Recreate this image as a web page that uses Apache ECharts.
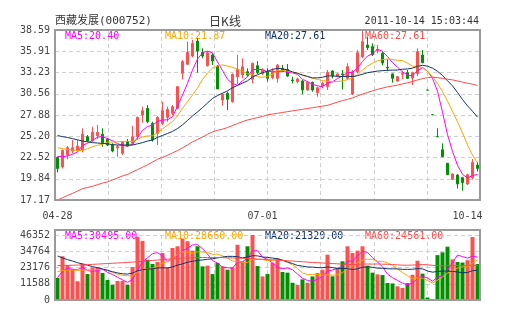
<!DOCTYPE html>
<html><head><meta charset="utf-8">
<script src="https://cdn.jsdelivr.net/npm/echarts@6/dist/echarts.min.js"></script>
<style>html,body{margin:0;padding:0;background:#fff}#c{width:505px;height:330px}</style>
</head><body><div id="c"></div>
<script>
// ---- data ----
const opens  = [22.52,21.33,22.84,23.34,23.47,23.47,25.15,24.60,25.27,25.45,
  24.82,24.10,23.72,23.06,24.52,24.31,25.15,27.88,28.72,26.83,
  25.57,26.83,27.59,28.10,28.72,33.13,34.27,35.31,37.20,35.78,
  34.09,35.44,34.05,29.77,30.61,29.56,32.70,32.92,33.34,32.38,
  34.09,33.13,33.34,32.58,32.50,33.76,33.63,32.29,32.08,32.16,
  31.03,32.00,30.69,31.53,31.45,33.42,32.79,33.05,32.50,30.53,
  33.34,35.23,36.70,36.49,35.99,35.63,33.90,33.05,32.16,33.00,
  33.21,32.54,33.10,35.44,31.02,27.92,25.15,23.50,21.80,19.78,
  20.32,19.98,19.19,20.00,21.58];
const closes = [21.14,23.41,23.76,23.76,23.97,25.45,24.60,25.70,25.70,24.39,
  24.10,23.34,23.89,24.52,23.97,25.15,27.59,28.42,27.04,24.73,
  27.59,28.42,28.60,28.93,31.45,34.60,35.78,36.91,35.94,35.31,
  35.73,34.68,31.16,30.49,29.86,33.00,33.63,33.97,32.92,34.39,
  33.21,33.55,32.50,33.34,34.18,33.42,32.79,32.20,32.42,31.03,
  32.00,31.03,31.32,31.87,33.26,32.83,33.05,32.96,33.97,33.34,
  35.73,37.12,36.36,35.48,36.15,34.43,33.80,32.50,32.70,33.13,
  32.50,33.21,35.86,34.47,31.02,27.92,25.13,22.62,20.36,20.45,
  19.19,19.37,20.36,21.90,21.15];
const lows   = [20.64,21.14,22.30,23.06,23.26,23.18,24.52,24.52,24.86,23.89,
  23.97,23.18,22.63,22.84,23.89,24.10,24.73,26.91,26.83,24.52,
  24.10,26.62,27.04,27.88,28.60,32.38,34.18,35.15,33.21,35.02,
  33.97,34.18,31.16,29.05,28.51,29.43,31.79,32.50,32.70,31.87,
  33.05,32.92,32.08,32.38,31.95,33.34,32.70,31.87,31.87,30.49,
  30.94,30.82,30.19,31.24,31.03,32.50,32.62,31.12,32.29,30.40,
  33.13,35.02,36.07,35.31,35.65,34.14,33.40,31.95,32.08,32.38,
  32.42,31.66,32.79,34.39,31.02,27.92,25.13,22.59,20.36,19.69,
  18.62,18.34,19.06,19.75,20.76];
const highs  = [22.65,23.53,23.97,24.73,24.73,26.20,25.36,26.41,26.62,26.20,
  24.98,24.31,24.10,24.60,24.86,26.49,27.67,28.93,29.14,27.04,
  27.75,29.56,28.93,29.14,31.53,34.81,37.12,37.33,37.58,36.28,
  35.94,35.65,34.18,30.61,30.82,33.13,35.44,35.02,33.76,34.47,
  34.68,33.76,33.76,33.76,34.30,34.18,34.30,32.70,32.58,32.29,
  32.08,32.08,31.45,32.08,33.55,33.55,33.13,33.55,34.39,33.55,
  36.07,38.59,37.75,36.91,36.70,35.86,34.90,33.13,32.79,33.46,
  33.55,33.34,36.28,36.07,31.02,27.92,26.20,24.31,21.83,20.51,
  20.45,20.10,20.48,22.34,21.95];
const volumes = [15800,31200,24800,22100,13400,25900,18500,23000,23500,19300,
  14300,10800,13600,13600,10800,23500,45100,42200,28700,25700,
  27100,33500,23100,37100,38300,43700,41900,35200,38300,24000,
  24500,18500,26400,24000,21600,23300,39400,27600,38300,46352,
  24200,16800,18500,26500,29800,20000,19500,12300,10800,14700,
  12300,16800,19300,21600,32300,16900,22800,27600,38300,33500,
  35200,38300,24500,19500,18300,17800,12100,11800,9800,8600,
  12000,18000,28000,18800,1800,500,32000,34000,38000,29000,
  27100,26700,28400,44900,25700];

// moving-average values at the start of the window (history not shown)
const ma5Lead  = [22.66,22.63,22.71,22.93];
const ma10Lead = [23.76,23.63,23.55,23.47,23.38,23.42,23.63,23.89,24.06];
const ma20Lead = [25.30,25.15,25.05,24.90,24.75,24.60,24.50,24.40,24.35,24.30,
  24.25,24.15,24.10,24.10,24.10,24.10,24.25,24.40,24.60];
const ma60Lead = [17.15,17.45,17.75,18.00,18.30,18.60,18.75,18.90,19.10,19.30,
  19.45,19.70,19.95,20.20,20.40,20.70,21.00,21.30,21.60,21.95,
  22.30,22.55,22.80,23.10,23.40,23.75,24.10,24.50,24.80,25.10,
  25.45,25.75,25.95,26.10,26.30,26.55,26.80,27.05,27.25,27.40,
  27.55,27.70,27.90,28.00,28.10,28.20,28.30,28.40,28.50,28.60,
  28.70,28.80,28.90,29.00,29.10,29.30,29.50,29.70,29.85];
const vma5Lead  = [16000,20500,22500,22000];
const vma10Lead = [20200,21000,21300,21300,21200,21300,21500,21600,21700];
const vma20Lead = [31400,30000,28800,27800,26600,25700,24800,23800,23000,22100,
  21100,20200,19300,18700,18500,19200,20800,21600,22000];
const vma60Lead = [24500,24600,24700,24800,24900,25000,25200,25400,25600,25800,
  26000,26200,26400,26600,26800,27000,27300,27600,27900,28200,
  28500,28800,29100,29400,29600,29800,30000,30100,30200,30300,
  30300,30300,30300,30200,30100,30000,29900,29800,29600,29400,
  29200,29000,28800,28600,28400,28200,28000,27800,27500,27300,
  27000,26800,26600,26400,26200,26000,25800,25600,25400];

const priceTicks = ['17.17','19.84','22.52','25.20','27.88','30.56','33.23','35.91','38.59'];
const priceMin = 17.17, priceMax = 38.59;
const volTickStep = 11588, volMax = 46352;
const xTickIdx  = [0, 41, 82];
const xTickText = ['04-28', '07-01', '10-14'];

const titleName = '西藏发展(000752)';
const titleMid = '日K线';
const titleTime = '2011-10-14 15:03:44';
const priceMaText = ['MA5:20.40', 'MA10:21.87', 'MA20:27.61', 'MA60:27.61'];
const volMaText = ['MA5:30495.00', 'MA10:28660.00', 'MA20:21320.00', 'MA60:24561.00'];
const maColors = ['#ff00ff', '#ffa500', '#10336b', '#ff4a4a'];

// ---- build ----
const UP = '#ff5050', DOWN = '#009000';
const MONO = '"DejaVu Sans Mono", "Noto Sans CJK SC", monospace';
const cats = closes.map((_, i) => String(i));
const kData = closes.map((c, i) => [opens[i], c, lows[i], highs[i]]);
function ma(vals, n, lead) {
  return vals.map((v, i) => {
    if (i < n - 1) return lead[i];
    let s = 0; for (let k = i - n + 1; k <= i; k++) s += vals[k];
    return +(s / n).toFixed(3);
  });
}
function isUp(i) {
  if (closes[i] > opens[i]) return true;
  if (closes[i] < opens[i]) return false;
  return i > 0 ? closes[i] >= closes[i - 1] : true;
}
const volData = volumes.map((v, i) => ({ value: v, itemStyle: { color: isUp(i) ? UP : DOWN } }));

const dash = { color: '#cfcfcf', type: [4, 3], width: 1 };
function lineSeries(name, data, color, xi, yi) {
  return { name, type: 'line', data, xAxisIndex: xi, yAxisIndex: yi, showSymbol: false, symbol: 'none',
    smooth: false, lineStyle: { color, width: 1 }, z: 3, silent: true, animation: false };
}
const lbl = (x, y, text, fill, font, align) => ({ type: 'text', z: 0, x, y,
  style: { text, fill, font, align: align || 'left', verticalAlign: 'middle' } });

const graphics = [
  lbl(55, 21, titleName, '#333', '11px ' + MONO),
  lbl(225, 21, titleMid, '#333', '12px "Noto Sans CJK SC"', 'center'),
  lbl(479, 21, titleTime, '#333', '10px ' + MONO, 'right'),
  { type: 'rect', z: 10, shape: { x: 55, y: 30, width: 425, height: 170 }, style: { fill: 'none', stroke: '#9a9a9a', lineWidth: 2 } },
  { type: 'rect', z: 10, shape: { x: 55, y: 230, width: 425, height: 70 }, style: { fill: 'none', stroke: '#9a9a9a', lineWidth: 2 } }
];
priceMaText.forEach((t, k) => graphics.push(lbl(65 + 100 * k, 36, t, maColors[k], '10px ' + MONO)));
volMaText.forEach((t, k) => graphics.push(lbl(65 + 100 * k, 236, t, maColors[k], '10px ' + MONO)));

const hiddenCat = (gi) => ({ type: 'category', gridIndex: gi, data: cats, boundaryGap: true, position: 'bottom',
  axisLine: { show: false }, axisTick: { show: false }, splitLine: { show: false }, axisLabel: { show: false } });
const gridX = (gi) => ({ type: 'value', gridIndex: gi, min: 0, max: 8, interval: 1, position: 'top',
  axisLine: { show: false }, axisTick: { show: false }, axisLabel: { show: false },
  splitLine: { show: true, lineStyle: dash } });

const xCat0 = hiddenCat(0);
xCat0.axisLabel = { show: true, interval: (i) => xTickIdx.indexOf(i) >= 0,
  formatter: (v, i) => { const k = xTickIdx.indexOf(i); return k >= 0 ? xTickText[k] : ''; },
  margin: 11, color: '#444', fontSize: 10, fontFamily: MONO, hideOverlap: false };

const option = {
  animation: false,
  backgroundColor: '#fff',
  grid: [
    { left: 55, top: 30, width: 425, height: 170, containLabel: false },
    { left: 55, top: 235, width: 425, height: 65, containLabel: false }
  ],
  xAxis: [xCat0, gridX(0), hiddenCat(1), gridX(1)],
  yAxis: [
    { type: 'value', gridIndex: 0, min: priceMin, max: priceMax, position: 'right', show: false, splitLine: { show: false } },
    { type: 'value', gridIndex: 0, min: 0, max: 8, interval: 1, position: 'left',
      axisLine: { show: false }, axisTick: { show: false },
      axisLabel: { formatter: (v) => priceTicks[Math.round(v)] || '', color: '#444', fontSize: 10, fontFamily: MONO, margin: 5 },
      splitLine: { show: true, lineStyle: dash } },
    { type: 'value', gridIndex: 1, min: 0, max: volMax, interval: volTickStep, position: 'left',
      axisLine: { show: false }, axisTick: { show: false },
      axisLabel: { formatter: (v) => String(v), color: '#444', fontSize: 10, fontFamily: MONO, margin: 5 },
      splitLine: { show: true, lineStyle: dash } }
  ],
  graphic: graphics,
  series: [
    { type: 'candlestick', data: kData, xAxisIndex: 0, yAxisIndex: 0, barWidth: 3, z: 2,
      itemStyle: { color: UP, color0: DOWN, borderColor: UP, borderColor0: DOWN, borderWidth: 1 } },
    lineSeries('MA5', ma(closes, 5, ma5Lead), maColors[0], 0, 0),
    lineSeries('MA10', ma(closes, 10, ma10Lead), maColors[1], 0, 0),
    lineSeries('MA20', ma(closes, 20, ma20Lead), maColors[2], 0, 0),
    lineSeries('MA60', ma(closes, 60, ma60Lead), maColors[3], 0, 0),
    { type: 'bar', data: volData, xAxisIndex: 2, yAxisIndex: 2, barWidth: 4, z: 2 },
    lineSeries('VMA5', ma(volumes, 5, vma5Lead), maColors[0], 2, 2),
    lineSeries('VMA10', ma(volumes, 10, vma10Lead), maColors[1], 2, 2),
    lineSeries('VMA20', ma(volumes, 20, vma20Lead), maColors[2], 2, 2),
    lineSeries('VMA60', ma(volumes, 60, vma60Lead), maColors[3], 2, 2)
  ]
};
const chart = echarts.init(document.getElementById('c'), null, { renderer: 'canvas' });
chart.setOption(option);
</script></body></html>
